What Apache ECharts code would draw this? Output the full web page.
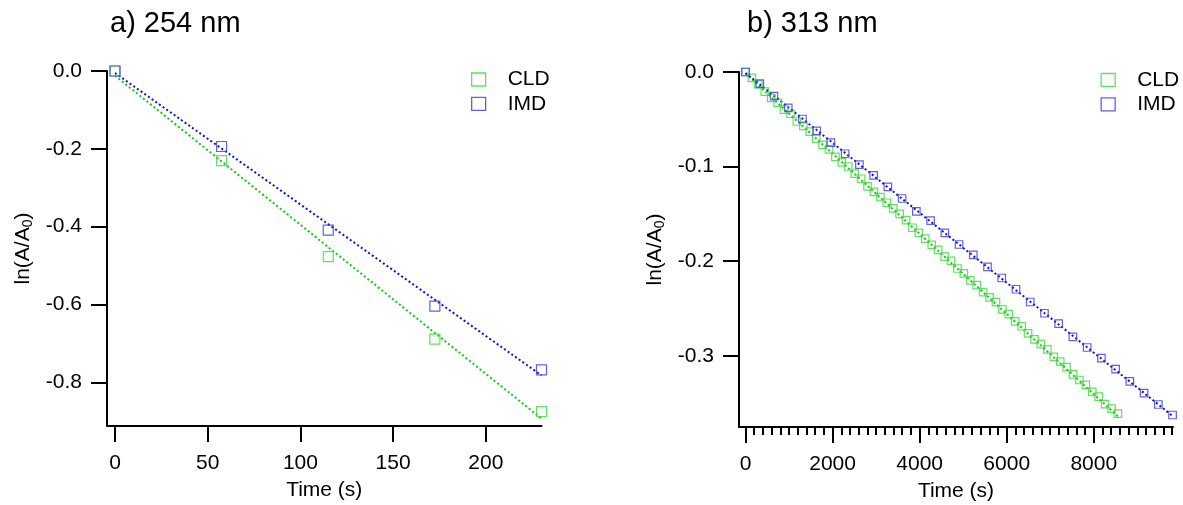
<!DOCTYPE html>
<html>
<head>
<meta charset="utf-8">
<script src="https://cdn.jsdelivr.net/npm/echarts@6/dist/echarts.min.js"></script>
<style>
html,body{margin:0;padding:0;background:#fff;}
#c{width:1183px;height:505px;}
</style>
</head>
<body>
<div id="c"></div>
<script>
// ---------- Data ----------
// Panel a) 254 nm
const aTime = [0, 57.5, 115, 172.5, 230];
const aCLD = [0, -0.230, -0.477, -0.689, -0.875];
const aIMD = [0, -0.194, -0.409, -0.604, -0.768];
const aFitTime = [0, 230];
const aFitCLD = [-0.012, -0.893];
const aFitIMD = [-0.005, -0.782];
const aXTicks = [0, 50, 100, 150, 200];
const aYTicks = [0, -0.2, -0.4, -0.6, -0.8];

// Panel b) 313 nm
const bTimeCLD = [0, 148, 295, 443, 590, 738, 885, 1033, 1180, 1328, 1475, 1623, 1770, 1918, 2065, 2213, 2360, 2508, 2655, 2803, 2950, 3098, 3245, 3393, 3540, 3688, 3835, 3983, 4130, 4278, 4425, 4573, 4720, 4868, 5015, 5163, 5310, 5458, 5605, 5753, 5900, 6048, 6195, 6343, 6490, 6638, 6785, 6933, 7080, 7228, 7375, 7523, 7670, 7818, 7965, 8113, 8260, 8408, 8555];
const bCLD = [0, -0.0062, -0.0130, -0.0207, -0.0274, -0.0326, -0.0397, -0.0441, -0.0523, -0.0570, -0.0630, -0.0705, -0.0770, -0.0818, -0.0897, -0.0955, -0.0999, -0.1075, -0.1128, -0.1208, -0.1268, -0.1322, -0.1382, -0.1442, -0.1499, -0.1566, -0.1646, -0.1701, -0.1761, -0.1828, -0.1881, -0.1951, -0.1997, -0.2077, -0.2128, -0.2202, -0.2253, -0.2326, -0.2381, -0.2433, -0.2509, -0.2559, -0.2635, -0.2687, -0.2762, -0.2826, -0.2877, -0.2931, -0.3011, -0.3062, -0.3120, -0.3196, -0.3255, -0.3306, -0.3380, -0.3431, -0.3511, -0.3558, -0.3610];
const bTimeIMD = [0, 327, 654, 981, 1308, 1635, 1962, 2289, 2616, 2943, 3270, 3597, 3924, 4251, 4578, 4905, 5232, 5559, 5886, 6213, 6540, 6867, 7194, 7521, 7848, 8175, 8502, 8829, 9156, 9483, 9810];
const bIMD = [0, -0.0123, -0.0255, -0.0379, -0.0497, -0.0622, -0.0747, -0.0864, -0.0979, -0.1092, -0.1214, -0.1337, -0.1472, -0.1571, -0.1700, -0.1823, -0.1933, -0.2060, -0.2177, -0.2296, -0.2431, -0.2550, -0.2660, -0.2799, -0.2912, -0.3025, -0.3140, -0.3269, -0.3393, -0.3514, -0.3625];
const bFitTimeCLD = [0, 8555];
const bFitCLD = [-0.0015, -0.3640];
const bFitTimeIMD = [0, 9810];
const bFitIMD = [-0.0010, -0.3635];
const bXTicks = [0, 2000, 4000, 6000, 8000];
const bYTicks = [0, -0.1, -0.2, -0.3];

const seriesNames = ['CLD', 'IMD'];
const titles = ['a) 254 nm', 'b) 313 nm'];

// ---------- Styles ----------
const FONT = 'Liberation Sans, Arial, sans-serif';
const GREEN_M = '#3fd63f', BLUE_M = '#3a3ad6';
const GREEN_L = '#12c812', BLUE_L = '#1010d2';

const pairs = (xs, ys) => xs.map((x, i) => [x, ys[i]]);

let bMinor = [];
for (let v = 200; v <= 9800; v += 200) { if (v % 2000 !== 0) bMinor.push(v); }

function xAxisMain(grid, min, max, ticks, nameGap) {
  return {
    type: 'value', gridIndex: grid, min: min, max: max, position: 'bottom', offset: 0,
    name: 'Time (s)', nameLocation: 'middle', nameGap: nameGap,
    nameTextStyle: { fontFamily: FONT, fontSize: 21, color: '#000' },
    axisLine: { show: true, onZero: false, lineStyle: { color: '#000', width: 2 } },
    axisTick: { show: true, inside: false, length: 16, customValues: ticks, lineStyle: { color: '#000', width: 2 } },
    axisLabel: { show: true, customValues: ticks, margin: 27, fontFamily: FONT, fontSize: 21, color: '#000', formatter: v => String(v) },
    splitLine: { show: false }
  };
}
function yAxisMain(grid, min, max, ticks) {
  return {
    type: 'value', gridIndex: grid, min: min, max: max, position: 'left',
    name: '{a|ln(A/A}{s|0}{a|)}', nameLocation: 'middle', nameGap: 72, nameRotate: 90,
    nameTextStyle: {
      fontFamily: FONT, color: '#000',
      rich: {
        a: { fontFamily: FONT, fontSize: 21, lineHeight: 24, color: '#000' },
        s: { fontFamily: FONT, fontSize: 14, lineHeight: 12, verticalAlign: 'bottom', color: '#000' }
      }
    },
    axisLine: { show: true, onZero: false, lineStyle: { color: '#000', width: 2 } },
    axisTick: { show: true, inside: false, length: 16, customValues: ticks, lineStyle: { color: '#000', width: 2 } },
    axisLabel: { show: true, customValues: ticks, margin: 25, fontFamily: FONT, fontSize: 21, color: '#000', formatter: v => v.toFixed(1) },
    splitLine: { show: false }
  };
}

function scatter(name, xi, yi, data, color, size) {
  return {
    name: name, type: 'scatter', xAxisIndex: xi, yAxisIndex: yi, data: data,
    symbol: 'rect', symbolSize: size, z: 3,
    itemStyle: { color: 'rgba(0,0,0,0)', borderColor: color, borderWidth: 1.2 },
    emphasis: { disabled: true }
  };
}
function fit(xi, yi, data, color) {
  return {
    type: 'line', xAxisIndex: xi, yAxisIndex: yi, data: data, symbol: 'none', z: 2,
    lineStyle: { color: color, width: 2, type: [2, 2.5] }, silent: true
  };
}
function legend(left, top, xi) {
  return {
    orient: 'vertical', left: left, top: top, padding: 0, itemGap: 2.3,
    itemWidth: 14, itemHeight: 13, selectedMode: false,
    textStyle: { fontFamily: FONT, fontSize: 21, color: '#000', lineHeight: 22, padding: [0, 0, 0, 17] },
    data: [
      { name: seriesNames[0] + (xi ? ' ' : ''), icon: 'rect', itemStyle: { color: 'rgba(0,0,0,0)', borderColor: GREEN_M, borderWidth: 1.3 } },
      { name: seriesNames[1] + (xi ? ' ' : ''), icon: 'rect', itemStyle: { color: 'rgba(0,0,0,0)', borderColor: BLUE_M, borderWidth: 1.3 } }
    ]
  };
}

const chart = echarts.init(document.getElementById('c'), null, { renderer: 'canvas' });
chart.setOption({
  animation: false,
  backgroundColor: '#fff',
  title: [
    { text: titles[0], left: 110, top: 9, padding: 0, textStyle: { fontFamily: FONT, fontSize: 29, fontWeight: 'normal', color: '#000' } },
    { text: titles[1], left: 747, top: 9, padding: 0, textStyle: { fontFamily: FONT, fontSize: 29, fontWeight: 'normal', color: '#000' } }
  ],
  legend: [legend(471, 68.5, 0), legend(1100.5, 69, 1)],
  grid: [
    { left: 107, top: 71, width: 434.5, height: 355, containLabel: false, outerBoundsMode: 'none' },
    { left: 739, top: 72, width: 434, height: 355, containLabel: false, outerBoundsMode: 'none' }
  ],
  xAxis: [
    xAxisMain(0, -4.3, 230, aXTicks, 54),
    xAxisMain(1, -150, 9820, bXTicks, 54),
    {
      type: 'value', gridIndex: 1, min: -150, max: 9820, position: 'bottom', offset: 0,
      axisLine: { show: false, onZero: false }, splitLine: { show: false },
      axisLabel: { show: false },
      axisTick: { show: true, inside: false, length: 8, customValues: bMinor, lineStyle: { color: '#000', width: 2 } }
    }
  ],
  yAxis: [
    yAxisMain(0, -0.912, 0, aYTicks),
    yAxisMain(1, -0.3752, 0, bYTicks)
  ],
  series: [
    fit(0, 0, pairs(aFitTime, aFitCLD), GREEN_L),
    fit(0, 0, pairs(aFitTime, aFitIMD), BLUE_L),
    scatter(seriesNames[0], 0, 0, pairs(aTime, aCLD), GREEN_M, 10),
    scatter(seriesNames[1], 0, 0, pairs(aTime, aIMD), BLUE_M, 10),
    fit(1, 1, pairs(bFitTimeCLD, bFitCLD), GREEN_L),
    fit(1, 1, pairs(bFitTimeIMD, bFitIMD), BLUE_L),
    scatter(seriesNames[0] + ' ', 1, 1, pairs(bTimeCLD, bCLD), GREEN_M, 7.5),
    scatter(seriesNames[1] + ' ', 1, 1, pairs(bTimeIMD, bIMD), BLUE_M, 7.5)
  ]
});
</script>
</body>
</html>
